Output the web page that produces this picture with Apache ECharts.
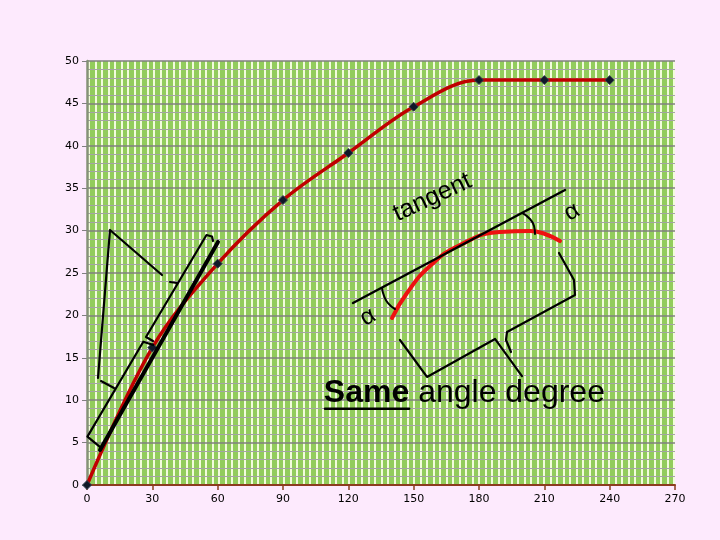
<!DOCTYPE html>
<html>
<head>
<meta charset="utf-8">
<script src="https://cdn.jsdelivr.net/npm/echarts@6/dist/echarts.min.js"></script>
<style>
html,body{margin:0;padding:0;background:#fdeafd;}
#c{width:720px;height:540px;}
</style>
</head>
<body>
<div id="c"></div>
<script>
// ---- data ----
const xValues = [0, 30, 60, 90, 120, 150, 180, 210, 240];
const yValues = [0, 16.2, 26.1, 33.6, 39.15, 44.6, 47.75, 47.75, 47.75];
const xTicks = [0, 30, 60, 90, 120, 150, 180, 210, 240, 270];
const yTicks = [0, 5, 10, 15, 20, 25, 30, 35, 40, 45, 50];

// annotation drawings (data coordinates)
const tangentLeft = [[5.97, 4.13], [60.15, 28.66]];
const arrowLeft = [[34.44, 24.76], [10.56, 30.07], [5.05, 12.62]];
const hookLeft = [[6.43, 12.26], [12.40, 11.44]];
const bracketLow = [[6.75, 4.33], [0.2, 5.70], [25.85, 16.90], [30.44, 16.51]];
const bracketHigh = [[30.31, 16.98], [27.09, 17.45], [54.87, 29.48], [57.40, 29.30], [57.86, 28.77]];
const notchHigh = [[38.11, 23.94], [41.33, 23.82]];
const tangentRight = [[122.14, 21.46], [219.49, 34.79]];
const redArc = [[140.05, 19.69], [146.94, 22.64], [157.50, 25.83], [171.28, 28.30], [189.64, 29.83], [203.42, 29.95], [210.31, 29.60], [217.19, 28.77]];
const alphaArcLeft = [[135.46, 23.23], [136.38, 22.29], [138.21, 21.46], [141.43, 20.75]];
const alphaArcRight = [[199.74, 32.08], [203.42, 31.37], [205.26, 30.54], [205.71, 29.60]];
const bracketBottomLeft = [[143.72, 17.10], [156.12, 12.74], [187.35, 17.22], [199.74, 12.85]];
const bracketBottomRight = [[216.73, 27.36], [223.62, 24.17], [224.08, 22.41], [192.86, 18.04], [192.40, 17.10], [194.69, 15.68]];
const underlineSame = [[109.3, 9.0], [147.9, 9.0]];

// text annotations (anchor in data coordinates)
const textTangent = {text: 'tangent', pos: [158.6, 33.9]};
const textAlphaLeft = {text: 'α', pos: [129.0, 19.8]};
const textAlphaRight = {text: 'α', pos: [222.7, 32.2]};
const textSame = {pos: [173.3, 10.8]};

// ---- pattern for plot background ----
const pc = document.createElement('canvas');
pc.width = 13; pc.height = 4;
const g = pc.getContext('2d');
g.fillStyle = '#92cc5c'; g.fillRect(0, 0, 13, 4);
g.fillStyle = '#f2fcdc'; g.fillRect(4, 0, 2, 4); g.fillRect(10, 0, 2, 4);

const chart = echarts.init(document.getElementById('c'), null, {renderer: 'canvas'});

const FONT = 'Liberation Sans, Arial, sans-serif';
function pts(xs, ys) { return xs.map((x, i) => [x, ys[i]]); }
function drawing(data, color, width, smooth) {
  return {
    type: 'line', data: data, symbol: 'none', showSymbol: false, smooth: !!smooth,
    lineStyle: {color: color, width: width, cap: 'round', join: 'round'},
    z: 6, clip: false, silent: true, animation: false
  };
}
function textMark(pos, formatter, opts) {
  return {
    type: 'scatter', symbolSize: 0, z: 7, silent: true, animation: false,
    itemStyle: {opacity: 0},
    data: [{value: pos}],
    label: Object.assign({show: true, position: 'inside', formatter: formatter,
      color: '#000', textBorderWidth: 0, textShadowBlur: 0, opacity: 1,
      fontFamily: FONT}, opts)
  };
}

const option = {
  backgroundColor: '#fdeafd',
  animation: false,
  grid: {left: 87, right: 45, top: 61, bottom: 55, show: true,
    backgroundColor: {image: pc, repeat: 'repeat'}, borderWidth: 0},
  xAxis: {
    type: 'value', min: 0, max: 270, interval: 30,
    axisLine: {show: true, onZero: false, lineStyle: {color: '#8c3c1e', width: 2}},
    axisTick: {show: true, length: 5, lineStyle: {color: '#8c3c1e', width: 1.5}},
    axisLabel: {color: '#000', fontSize: 11, fontFamily: 'DejaVu Sans', margin: 9},
    splitLine: {show: false}
  },
  yAxis: {
    type: 'value', min: 0, max: 50, interval: 5,
    axisLine: {show: true, lineStyle: {color: '#849276', width: 2.5}},
    axisTick: {show: true, length: 5, lineStyle: {color: '#808080', width: 1}},
    axisLabel: {color: '#000', fontSize: 11, fontFamily: 'DejaVu Sans', margin: 8},
    splitLine: {show: true, lineStyle: {color: '#808080', width: 1.5}},
    minorTick: {show: false, splitNumber: 5},
    minorSplitLine: {show: true, lineStyle: {color: '#a4a4a4', width: 1}}
  },
  series: [
    {
      type: 'line', data: pts(xValues, yValues), smooth: 0.35,
      symbol: 'diamond', symbolSize: 9,
      itemStyle: {color: '#101828', borderColor: '#33404f', borderWidth: 1},
      lineStyle: {color: '#c00000', width: 3.5}, z: 3
    },
    drawing(redArc, '#ee1111', 4, true),
    drawing(tangentLeft, '#000', 4),
    drawing(arrowLeft, '#000', 2.2),
    drawing(hookLeft, '#000', 2.2),
    drawing(bracketLow, '#000', 2.2),
    drawing(bracketHigh, '#000', 2.2),
    drawing(notchHigh, '#000', 2.2),
    drawing(tangentRight, '#000', 2.5),
    drawing(alphaArcLeft, '#000', 2, true),
    drawing(alphaArcRight, '#000', 2, true),
    drawing(bracketBottomLeft, '#000', 2.2),
    drawing(bracketBottomRight, '#000', 2.2),
    drawing(underlineSame, '#000', 2.5),
    textMark(textTangent.pos, textTangent.text, {fontSize: 25, rotate: 25}),
    textMark(textAlphaLeft.pos, textAlphaLeft.text, {fontSize: 24, rotate: 30}),
    textMark(textAlphaRight.pos, textAlphaRight.text, {fontSize: 24, rotate: 30}),
    textMark(textSame.pos, '{b|Same}{n| angle degree}', {
      rich: {
        b: {fontSize: 32, fontWeight: 'bold', color: '#000', fontFamily: FONT, textBorderWidth: 0},
        n: {fontSize: 32, color: '#000', fontFamily: FONT, textBorderWidth: 0}
      }
    })
  ]
};
chart.setOption(option);
</script>
</body>
</html>
